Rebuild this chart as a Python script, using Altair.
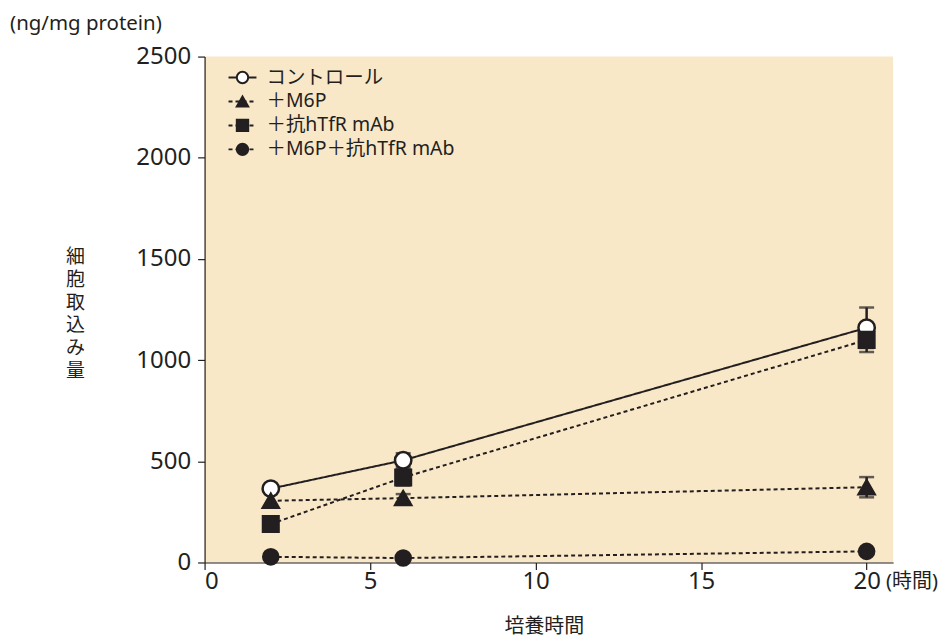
import altair as alt
import pandas as pd

FONT = "Noto Sans, Noto Sans CJK JP"
INK = "#231F20"
BG = "#F9E8C8"

series = ["コントロール", "＋M6P", "＋抗hTfR mAb", "＋M6P＋抗hTfR mAb"]
hours = [2, 6, 20]
control = [365, 505, 1160]
control_err = [0, 35, 100]
m6p = [305, 318, 372]
m6p_err = [0, 20, 50]
tfr = [190, 420, 1100]
tfr_err = [0, 40, 60]
both = [28, 22, 55]
both_err = [0, 0, 0]

y_ticks = [0, 500, 1000, 1500, 2000, 2500]
x_ticks = [0, 5, 10, 15, 20]

rows = []
for name, vals, errs in [(series[0], control, control_err), (series[1], m6p, m6p_err),
                         (series[2], tfr, tfr_err), (series[3], both, both_err)]:
    for h, v, e in zip(hours, vals, errs):
        rows.append({"series": name, "hour": h, "value": v, "lo": v - e, "hi": v + e, "err": e})
df = pd.DataFrame(rows)
df_err = df[df["err"] > 0]

shape_scale = alt.Scale(domain=series, range=["circle", "triangle-up", "square", "circle"])
fill_scale = alt.Scale(domain=series, range=["white", INK, INK, INK])
dash_scale = alt.Scale(domain=series, range=[[1, 0], [4, 3], [4, 3], [4, 3]])
size_scale = alt.Scale(domain=series, range=[270, 230, 220, 270])

xs = alt.Scale(domain=[0, 20.8], nice=False, zero=False)
ys = alt.Scale(domain=[0, 2500], nice=False)

x_enc = alt.X("hour:Q", scale=xs, axis=alt.Axis(
    values=x_ticks, format="d", title="培養時間", titleX=340, titleY=64, titleBaseline="middle",
    titleFontWeight="normal", titleFontSize=20, titleFont=FONT, titleColor=INK, grid=False,
    labelFontSize=24, labelFont=FONT, labelColor=INK, tickColor=INK, domainColor=INK,
    tickSize=7, labelPadding=0, domainWidth=1.2, tickWidth=1.2))
y_enc = alt.Y("value:Q", scale=ys, axis=alt.Axis(
    values=y_ticks, format="d", title=["細", "胞", "取", "込", "み", "量"], titleAngle=0,
    titleX=-130, titleY=191, titleAlign="center", titleBaseline="top",
    titleLineHeight=23, titleFontWeight="normal", titleFontSize=19, titleFont=FONT,
    titleColor=INK,
    grid=False, labelFontSize=24, labelFont=FONT, labelColor=INK, tickColor=INK,
    domainColor=INK, tickSize=7, labelPadding=7, domainWidth=1.2, tickWidth=1.2))

base = alt.Chart(df)

lines = base.mark_line(strokeWidth=2, color=INK).encode(
    x=x_enc, y=y_enc,
    detail="series:N",
    strokeDash=alt.StrokeDash("series:N", scale=dash_scale, legend=None),
)

errbar = alt.Chart(df_err).mark_rule(color=INK, strokeWidth=2.5).encode(
    x=alt.X("hour:Q", scale=xs), y=alt.Y("lo:Q", scale=ys), y2="hi:Q")
caps_hi = alt.Chart(df_err).mark_tick(color=INK, thickness=2.5, size=15, orient="horizontal").encode(
    x=alt.X("hour:Q", scale=xs), y=alt.Y("hi:Q", scale=ys))
caps_lo = alt.Chart(df_err).mark_tick(color=INK, thickness=2.5, size=15, orient="horizontal").encode(
    x=alt.X("hour:Q", scale=xs), y=alt.Y("lo:Q", scale=ys))

points = base.mark_point(filled=False, strokeWidth=2.5, color=INK, opacity=1).encode(
    x=alt.X("hour:Q", scale=xs), y=alt.Y("value:Q", scale=ys),
    shape=alt.Shape("series:N", scale=shape_scale, legend=None),
    fill=alt.Fill("series:N", scale=fill_scale, legend=None),
    size=alt.Size("series:N", scale=size_scale, legend=None),
    order=alt.Order("series:N"),
)

# manual legend (pixel positions inside the plot area)
leg = pd.DataFrame({
    "series": series,
    "lx0": [24] * 4, "lx1": [52] * 4, "mx": [38] * 4, "tx": [62] * 4,
    "ly": [21, 45, 69, 93],
})
leg_lines = alt.Chart(leg).mark_rule(color=INK, strokeWidth=2).encode(
    x=alt.X("lx0:Q", scale=None), x2="lx1:Q", y=alt.Y("ly:Q", scale=None),
    strokeDash=alt.StrokeDash("series:N", scale=dash_scale, legend=None))
leg_pts = alt.Chart(leg).mark_point(filled=False, strokeWidth=2, color=INK, opacity=1).encode(
    x=alt.X("mx:Q", scale=None), y=alt.Y("ly:Q", scale=None),
    shape=alt.Shape("series:N", scale=shape_scale, legend=None),
    fill=alt.Fill("series:N", scale=fill_scale, legend=None),
    size=alt.value(130))
leg_text = alt.Chart(leg).mark_text(align="left", baseline="middle", font=FONT,
                                    fontSize=19.5, color=INK).encode(
    x=alt.X("tx:Q", scale=None), y=alt.Y("ly:Q", scale=None), text="series:N")

unit_y = alt.Chart(pd.DataFrame({"t": ["(ng/mg protein)"]})).mark_text(
    align="left", baseline="middle", font=FONT, fontSize=20.5, color=INK).encode(
    x=alt.value(-195), y=alt.value(-33), text="t:N")
unit_x = alt.Chart(pd.DataFrame({"t": ["(時間)"]})).mark_text(
    align="left", baseline="middle", font=FONT, fontSize=20, color=INK).encode(
    x=alt.value(683), y=alt.value(527), text="t:N")

chart = alt.layer(lines, errbar, caps_hi, caps_lo, points, leg_lines, leg_pts, leg_text,
                  unit_y, unit_x).resolve_scale(
    shape="shared", fill="shared", strokeDash="shared"
).properties(
    width=690, height=507,
    autosize=alt.AutoSizeParams(type="none"),
    padding={"left": 197, "top": 48, "right": 50, "bottom": 78},
    background="white",
).configure_view(fill=BG, stroke=None)

chart.save("out.html", embed_options={"renderer": "svg", "actions": False})
